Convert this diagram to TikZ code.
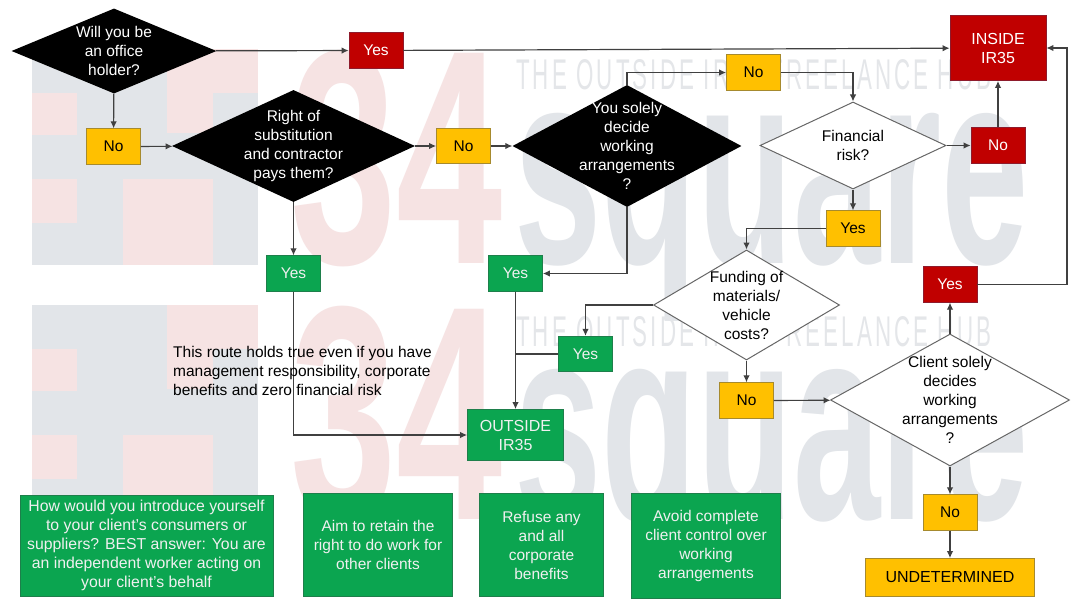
\documentclass[tikz,border=0pt]{standalone}
\usepackage{fontspec}
\setmainfont{Liberation Sans}
\usetikzlibrary{arrows, shapes, positioning, arrows.meta}
\definecolor{markgray}{HTML}{E2E5E9}
\definecolor{markpink}{HTML}{F6E3E3}
\definecolor{hubgray}{HTML}{E4E6E9}
\definecolor{amberfill}{HTML}{FFC000}
\definecolor{amberline}{HTML}{A68A2E}
\definecolor{redfill}{HTML}{C00000}
\definecolor{redline}{HTML}{8E1B2C}
\definecolor{greenfill}{HTML}{0BA550}
\definecolor{greenline}{HTML}{1E7F4B}
\definecolor{flowline}{HTML}{404040}
\tikzset{
  basefont/.style={font=\fontsize{15.5}{19}\selectfont, align=center, inner sep=0pt},
  capsfont/.style={font=\fontsize{16}{19}\selectfont, align=center, inner sep=0pt},
  askblack/.style={diamond, fill=black, inner sep=0pt},
  askwhite/.style={diamond, draw=black!60, fill=white, line width=1pt, inner sep=0pt},
  amberbox/.style={rectangle, basefont, draw=amberline, fill=amberfill, line width=0.8pt, minimum width=54pt, minimum height=35.5pt},
  redbox/.style={rectangle, basefont, draw=redline, fill=redfill, text=white, line width=0.8pt, minimum width=54pt, minimum height=35.5pt},
  greenbox/.style={rectangle, basefont, draw=greenline, fill=greenfill, text=white!94!black, line width=0.8pt, minimum width=54pt, minimum height=35.5pt},
  flow/.style={draw=flowline, line width=1.2pt}
}
\begin{document}
\begin{tikzpicture}[x=1pt, y=-1pt, >={Latex[length=7pt,width=6.5pt]}]
\path[use as bounding box, fill=white] (0,0) rectangle (1079,607);

\foreach \oy in {0,256} {
  \fill[markgray] (32,49+\oy) rectangle (258,265+\oy);
  \fill[markpink] (167,49+\oy) rectangle (258,93+\oy);
  \fill[markpink] (167,93+\oy) rectangle (213,133+\oy);
  \fill[markpink] (32,93+\oy) rectangle (77,135+\oy);
  \fill[markpink] (32,179+\oy) rectangle (77,223+\oy);
  \fill[markpink] (123,179+\oy) rectangle (213,265+\oy);
  \node (numbers\oy)[anchor=base west, inner sep=0pt, text=markpink] at (290,263+\oy)
    {\resizebox{212pt}{213pt}{\bfseries 34}};
  \node (square\oy)[anchor=base west, inner sep=0pt, text=markgray] at (514,263+\oy)
    {\resizebox{514pt}{150pt}{\bfseries square}};
  \node (hub\oy)[anchor=base west, inner sep=0pt, text=hubgray] at (516,90+\oy)
    {\resizebox{475pt}{30pt}{\addfontfeatures{LetterSpace=14}THE OUTSIDE IR35 FREELANCE HUB}};
}

\node (office)[askblack, minimum width=205pt, minimum height=85pt] at (114,51) {};
\node (substitution)[askblack, minimum width=243pt, minimum height=112pt] at (293.5,146) {};
\node (arrangements)[askblack, minimum width=229pt, minimum height=122pt] at (627,146) {};
\node (financial)[askwhite, minimum width=186pt, minimum height=87pt] at (853,145.5) {};
\node (funding)[askwhite, minimum width=186pt, minimum height=110pt] at (746.5,305) {};
\node (client)[askwhite, minimum width=239pt, minimum height=132pt] at (950,400) {};

\node (officetext)[basefont, text=white] at (office) {Will you be\\an office\\holder?};
\node (substitutiontext)[basefont, text=white] at (substitution) {Right of\\substitution\\and contractor\\pays them?};
\node (arrangementstext)[basefont, text=white] at (arrangements) {You solely\\decide\\working\\arrangements\\?};
\node (financialtext)[basefont] at (financial) {Financial\\risk?};
\node (fundingtext)[basefont] at (funding) {Funding of\\materials/\\vehicle\\costs?};
\node (clienttext)[basefont] at (client) {Client solely\\decides\\working\\arrangements\\?};

\node (yesoffice)[redbox] at (376,50.5) {Yes};
\node (nooffice)[amberbox] at (113.5,146.5) {No};
\node (nosub)[amberbox] at (463.5,146) {No};
\node (yessub)[greenbox] at (293.5,273.5) {Yes};
\node (yesarr)[greenbox] at (515.5,273.5) {Yes};
\node (noarr)[amberbox] at (753.5,72.5) {No};
\node (nofin)[redbox] at (998,145.5) {No};
\node (yesfin)[amberbox] at (853,228.5) {Yes};
\node (yesfund)[greenbox] at (585.5,354) {Yes};
\node (nofund)[amberbox] at (746.5,400.5) {No};
\node (yesclient)[redbox] at (950,284.5) {Yes};
\node (noclient)[amberbox] at (950,512.5) {No};

\node (inside)[redbox, capsfont, minimum width=96pt, minimum height=65pt] at (998,48) {INSIDE\\IR35};
\node (outside)[greenbox, capsfont, minimum width=96pt, minimum height=51pt] at (515.5,435) {OUTSIDE\\IR35};
\node (undetermined)[amberbox, capsfont, minimum width=169pt, minimum height=38pt] at (950,577.5) {UNDETERMINED};

\node (tipintro)[greenbox, font=\fontsize{15.8}{19}\selectfont, minimum width=253pt, minimum height=101pt] at (146.5,545.5) {How would you introduce yourself\\to your client's consumers or\\suppliers? BEST answer: You are\\an independent worker acting on\\your client's behalf};
\node (tipright)[greenbox, minimum width=149pt, minimum height=103pt] at (378,545) {Aim to retain the\\right to do work for\\other clients};
\node (tipbenefits)[greenbox, minimum width=124pt, minimum height=103pt] at (541.5,545) {Refuse any\\and all\\corporate\\benefits};
\node (tipcontrol)[greenbox, minimum width=149pt, minimum height=105pt] at (706,546) {Avoid complete\\client control over\\working\\arrangements};

\coordinate (rightturn) at (1067,284.5);

\draw[flow, ->] (office) -- (yesoffice);
\draw[flow, ->] (yesoffice) -- (inside);
\draw[flow, ->] (office) -- (nooffice);
\draw[flow, ->] (nooffice) -- (substitution);
\draw[flow, ->] (substitution) -- (nosub);
\draw[flow, ->] (nosub) -- (arrangements);
\draw[flow, ->] (substitution) -- (yessub);
\draw[flow, ->] (yessub) |- (outside);
\draw[flow, ->] (arrangements.south) |- (yesarr);
\draw[flow, ->] (yesarr) -- (outside);
\draw[flow, ->] (arrangements.north) |- (noarr);
\draw[flow, ->] (noarr) -| (financial.north);
\draw[flow, ->] (financial) -- (nofin);
\draw[flow, ->] (nofin) -- (inside);
\draw[flow, ->] (financial) -- (yesfin);
\draw[flow, ->] (yesfin) -| (funding.north);
\draw[flow, ->] (funding) -| (yesfund);
\draw[flow] (yesfund) -- (yesfund.west -| yesarr);
\draw[flow, ->] (funding) -- (nofund);
\draw[flow, ->] (nofund) -- (client);
\draw[flow, ->] (client) -- (yesclient);
\draw[flow, ->] (yesclient) -- (rightturn) |- (inside);
\draw[flow, ->] (client) -- (noclient);
\draw[flow, ->] (noclient) -- (undetermined);

\node (routenote)[basefont, align=left, anchor=west] at (173,371) {This route holds true even if you have\\management responsibility, corporate\\benefits and zero financial risk};
\end{tikzpicture}
\end{document}
